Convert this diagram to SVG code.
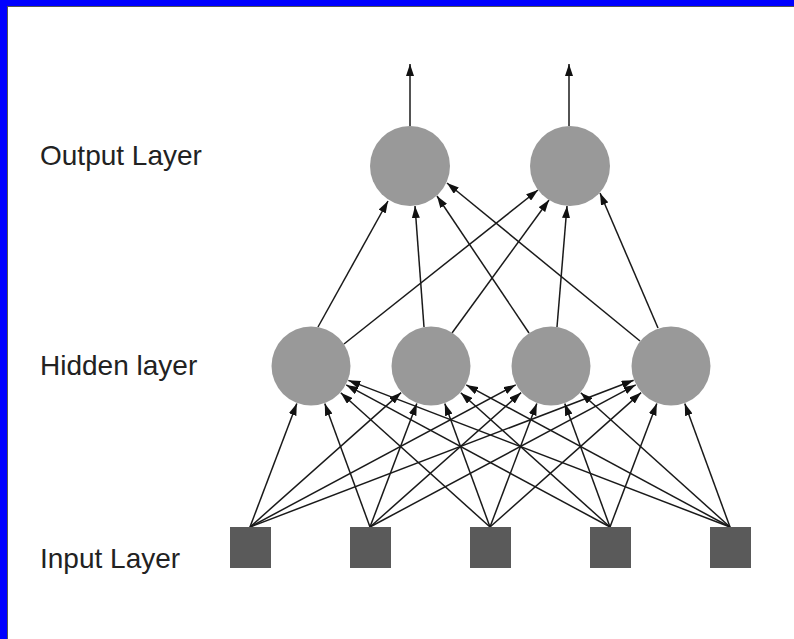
<svg xmlns="http://www.w3.org/2000/svg" width="794" height="639" viewBox="0 0 794 639">
<style>
.lbl{font-family:"Liberation Sans",Arial,sans-serif;font-size:28px;fill:#222}
.hid{fill:#999999}
.out{fill:#999999}
.inp{fill:#5a5a5a}
.c line{stroke:#1a1a1a;stroke-width:1.5;marker-end:url(#ah)}
</style>
<defs>
<marker id="ah" markerUnits="userSpaceOnUse" markerWidth="12" markerHeight="8" refX="12" refY="4" orient="auto">
<path d="M0,0 L12,4 L0,8 z" fill="#111"/>
</marker>
</defs>
<rect x="0" y="0" width="794" height="639" fill="#ffffff"/>
<rect x="0" y="0" width="794" height="6" fill="#0000ff"/>
<rect x="0" y="0" width="7" height="639" fill="#0000ff"/>
<line x1="7" y1="6.5" x2="794" y2="6.5" stroke="#555" stroke-width="1"/>
<line x1="7.5" y1="6" x2="7.5" y2="639" stroke="#555" stroke-width="1"/>

<text class="lbl" x="40" y="165">Output Layer</text>
<text class="lbl" x="40" y="375">Hidden layer</text>
<text class="lbl" x="40" y="568">Input Layer</text>

<g class="c" id="connectors">
<line x1="410" y1="126" x2="410" y2="64"/>
<line x1="569" y1="126" x2="569" y2="64"/>
<line x1="318" y1="327" x2="388" y2="201"/>
<line x1="344" y1="344" x2="538" y2="190"/>
<line x1="424" y1="327" x2="415" y2="206"/>
<line x1="452" y1="333" x2="549" y2="200"/>
<line x1="529" y1="333" x2="437" y2="196"/>
<line x1="557" y1="327" x2="567" y2="206"/>
<line x1="640" y1="341" x2="447" y2="183"/>
<line x1="658" y1="328" x2="600" y2="193"/>

<line x1="250" y1="527" x2="296.83" y2="403.41"/>
<line x1="250" y1="527" x2="401.11" y2="392.58"/>
<line x1="250" y1="527" x2="515.73" y2="384.87"/>
<line x1="250" y1="527" x2="633.64" y2="380.29"/>
<line x1="370" y1="527" x2="324.76" y2="403.56"/>
<line x1="370" y1="527" x2="416.83" y2="403.41"/>
<line x1="370" y1="527" x2="521.11" y2="392.58"/>
<line x1="370" y1="527" x2="635.73" y2="384.87"/>
<line x1="490" y1="527" x2="340.74" y2="392.75"/>
<line x1="490" y1="527" x2="444.76" y2="403.56"/>
<line x1="490" y1="527" x2="536.83" y2="403.41"/>
<line x1="490" y1="527" x2="641.11" y2="392.58"/>
<line x1="610" y1="527" x2="346.22" y2="384.96"/>
<line x1="610" y1="527" x2="460.74" y2="392.75"/>
<line x1="610" y1="527" x2="564.76" y2="403.56"/>
<line x1="610" y1="527" x2="656.83" y2="403.41"/>
<line x1="730" y1="527" x2="348.34" y2="380.35"/>
<line x1="730" y1="527" x2="466.22" y2="384.96"/>
<line x1="730" y1="527" x2="580.74" y2="392.75"/>
<line x1="730" y1="527" x2="684.76" y2="403.56"/>
</g>

<g id="out1"><circle class="out" cx="410" cy="166" r="40"/></g>
<g id="out2"><circle class="out" cx="570" cy="166" r="40"/></g>
<g id="hid1"><circle class="hid" cx="311" cy="366" r="39.5"/></g>
<g id="hid2"><circle class="hid" cx="431" cy="366" r="39.5"/></g>
<g id="hid3"><circle class="hid" cx="551" cy="366" r="39.5"/></g>
<g id="hid4"><circle class="hid" cx="671" cy="366" r="39.5"/></g>
<g id="in1"><rect class="inp" x="230" y="527" width="41" height="41"/></g>
<g id="in2"><rect class="inp" x="350" y="527" width="41" height="41"/></g>
<g id="in3"><rect class="inp" x="470" y="527" width="41" height="41"/></g>
<g id="in4"><rect class="inp" x="590" y="527" width="41" height="41"/></g>
<g id="in5"><rect class="inp" x="710" y="527" width="41" height="41"/></g>
</svg>
